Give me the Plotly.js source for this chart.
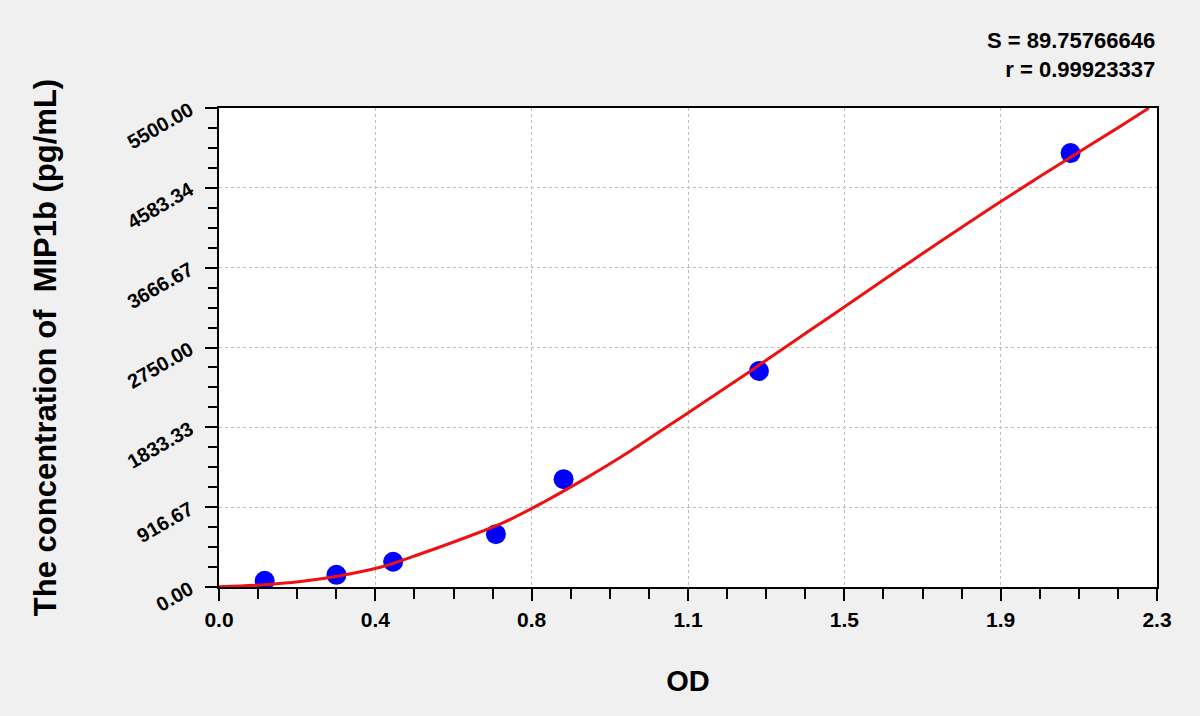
<!DOCTYPE html>
<html>
<head>
<meta charset="utf-8">
<script src="https://cdn.plot.ly/plotly-3.0.1.min.js"></script>
<style>
	html, body { margin: 0; padding: 0; background: #f0f0f0; }
	#chart { width: 1200px; height: 716px; }
</style>
</head>
<body>
<div id="chart"></div>
<script>
// standards (OD vs concentration)
const standardOD = [0.112, 0.288, 0.427, 0.679, 0.845, 1.324, 2.088]
const standardConc = [72, 140, 290, 607, 1238, 2480, 4982]

// fitted curve
const curveOD = [0, 0.1, 0.2, 0.3, 0.4, 0.5, 0.6, 0.7, 0.8, 0.9, 1.0, 1.1, 1.2, 1.3, 1.4, 1.5, 1.6, 1.7, 1.8, 1.9, 2.0, 2.1, 2.2, 2.28]
const curveConc = [3, 22, 62, 132, 232, 390, 560, 745, 985, 1250, 1535, 1845, 2155, 2470, 2790, 3110, 3430, 3750, 4065, 4375, 4675, 4970, 5260, 5500]

// tick labels
const xMax = 2.3
const yMax = 5500
const xTickText = ['0.0', '0.4', '0.8', '1.1', '1.5', '1.9', '2.3']
const yTickText = ['0.00', '916.67', '1833.33', '2750.00', '3666.67', '4583.34', '5500.00']

const fitS = '89.75766646'
const fitR = '0.99923337'

function drawChart() {
	let font = { family: 'Liberation Sans, Arial, sans-serif', color: 'black', weight: 'bold' }
	let axis = {
		showline: true,
		linecolor: 'black',
		linewidth: 2,
		mirror: true,
		ticks: 'outside',
		ticklen: 12,
		tickwidth: 2,
		tickcolor: 'black',
		showgrid: true,
		gridcolor: '#bdbdbd',
		griddash: 'dot',
		gridwidth: 1,
		zeroline: false,
		tickmode: 'array',
		automargin: false,
	}
	Plotly.newPlot('chart', [
		{
			x: standardOD,
			y: standardConc,
			type: 'scatter',
			mode: 'markers',
			marker: { color: '#0000ff', size: 20 },
			hoverinfo: 'skip',
		},
		{
			x: curveOD,
			y: curveConc,
			type: 'scatter',
			mode: 'lines',
			line: { color: '#ee1111', width: 3, shape: 'spline' },
			hoverinfo: 'skip',
		},
	], {
		width: 1200,
		height: 716,
		showlegend: false,
		paper_bgcolor: '#f0f0f0',
		plot_bgcolor: 'white',
		margin: { l: 219, r: 43, t: 108, b: 129 },
		font: font,
		xaxis: {
			...axis,
			range: [0, xMax],
			tickvals: xTickText.map((_, i) => i * xMax / 6),
			ticktext: xTickText,
			tickfont: { ...font, size: 21 },
			ticklabelstandoff: 1,
			minor: { tickmode: 'linear', tick0: 0, dtick: xMax / 24, ticks: 'outside', ticklen: 10, tickwidth: 2, tickcolor: 'black', showgrid: false },
			title: { text: 'OD', font: { ...font, size: 29 }, standoff: 40 },
		},
		yaxis: {
			...axis,
			range: [0, yMax],
			tickvals: yTickText.map((_, i) => i * yMax / 6),
			ticktext: yTickText,
			tickangle: -30,
			tickfont: { ...font, size: 20 },
			ticklabelstandoff: 11,
			minor: { tickmode: 'linear', tick0: 0, dtick: yMax / 24, ticks: 'outside', ticklen: 9, tickwidth: 2, tickcolor: 'black', showgrid: false },
			title: { text: 'The concentration of  MIP1b (pg/mL)', font: { ...font, size: 31 }, standoff: 58 },
		},
		annotations: [
			{
				xref: 'paper', yref: 'paper', x: 1, y: 1, xanchor: 'right', yanchor: 'bottom', yshift: 24,
				align: 'right', showarrow: false,
				text: `S = ${fitS}<br>r = ${fitR}`,
				font: { ...font, size: 22 },
			},
		],
	}, { staticPlot: true })
}

drawChart()
</script>
</body>
</html>
